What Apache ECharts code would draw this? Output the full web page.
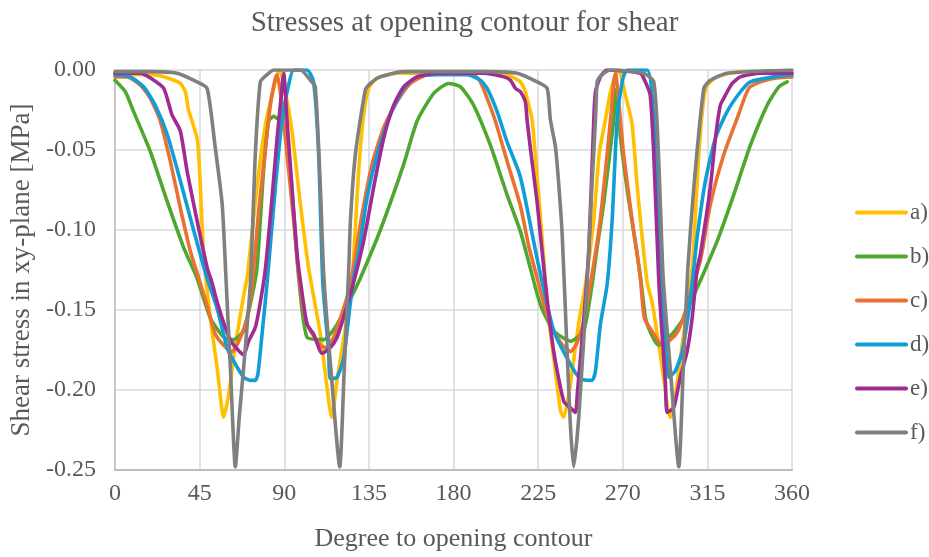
<!DOCTYPE html>
<html>
<head>
<meta charset="utf-8">
<script src="https://cdn.jsdelivr.net/npm/echarts@6/dist/echarts.min.js"></script>
<style>
  html, body { margin: 0; padding: 0; background: #ffffff; }
  #chart { width: 929px; height: 557px; }
</style>
</head>
<body>
<div id="chart"></div>
<script>
// Shear stress around the opening contour, [degree, MPa] pairs per case
const seriesNames = ['a)', 'b)', 'c)', 'd)', 'e)', 'f)'];
const seriesColors = ['#FFC000', '#4EA72E', '#E97132', '#0F9ED5', '#A02B93', '#808080'];

const caseA = [[0,-0.003],[20,-0.003],[28,-0.005],[34.7,-0.0084],[37.4,-0.0136],[39.1,-0.025],[41,-0.032],[43.6,-0.0425],[44.5,-0.053],[45.4,-0.073],[47.1,-0.115],[50.7,-0.155],[54.3,-0.186],[57.8,-0.217],[60.4,-0.203],[64,-0.172],[68.4,-0.141],[70.5,-0.128],[75.5,-0.073],[80,-0.034],[83.5,-0.0157],[86.2,-0.003],[87.5,0],[90.6,-0.0136],[94.1,-0.038],[98.6,-0.084],[103,-0.124],[109.2,-0.165],[115.4,-0.217],[118,-0.194],[123.4,-0.155],[126,-0.133],[129.6,-0.063],[132.2,-0.028],[134.9,-0.0115],[139.4,-0.005],[150,-0.002],[180,-0.002],[200,-0.002],[208.5,-0.003],[215.6,-0.0074],[218.2,-0.0136],[220,-0.022],[221.8,-0.031],[224,-0.06],[226.3,-0.093],[228.5,-0.126],[230.6,-0.155],[233.3,-0.18],[236.9,-0.213],[238.6,-0.217],[240.2,-0.21],[242.2,-0.196],[246.6,-0.158],[250.2,-0.134],[254.6,-0.093],[257.5,-0.052],[260.8,-0.031],[263.5,-0.0136],[266.1,-0.003],[267.9,0],[271.4,-0.0157],[275,-0.034],[277.7,-0.073],[283,-0.133],[285.6,-0.145],[290,-0.178],[295.4,-0.217],[298,-0.203],[302.4,-0.165],[306.9,-0.124],[310.4,-0.053],[313.1,-0.0177],[314.9,-0.0095],[320.2,-0.0043],[332.6,-0.001],[360,-0.001]];

const caseB = [[0,-0.0064],[5.5,-0.0136],[9.9,-0.026],[18.8,-0.051],[27.7,-0.082],[36.5,-0.111],[43.6,-0.130],[50.7,-0.155],[57.8,-0.167],[63.1,-0.1685],[68.4,-0.163],[72.9,-0.141],[75.5,-0.124],[79,-0.063],[81.7,-0.032],[84.4,-0.029],[87,-0.031],[89.7,-0.034],[93.2,-0.063],[97.7,-0.13],[102.1,-0.167],[111,-0.1685],[118.1,-0.159],[125.2,-0.143],[130.5,-0.13],[141.1,-0.100],[153.5,-0.059],[160.6,-0.032],[169.5,-0.0146],[177.4,-0.0084],[183.7,-0.0105],[190.7,-0.022],[199.6,-0.047],[208.5,-0.078],[215.6,-0.101],[220,-0.12],[226.3,-0.147],[233.3,-0.163],[242.2,-0.1695],[249.2,-0.163],[253.7,-0.134],[256.5,-0.11],[259.9,-0.083],[265.2,-0.031],[266.5,-0.012],[268.8,-0.042],[273,-0.08],[277.7,-0.115],[280,-0.135],[282.5,-0.157],[289,-0.172],[296.3,-0.165],[302.4,-0.155],[309.6,-0.136],[313,-0.127],[320.2,-0.107],[329,-0.078],[337.9,-0.047],[346.8,-0.022],[353,-0.0105],[357.4,-0.0074]];

const caseC = [[0,-0.0043],[6.4,-0.0043],[13.5,-0.0095],[18.8,-0.0177],[24.1,-0.032],[29.4,-0.057],[34.7,-0.086],[40,-0.113],[44.5,-0.13],[48.9,-0.147],[53.3,-0.165],[57.8,-0.172],[62.2,-0.176],[65.8,-0.1695],[70.2,-0.155],[73,-0.134],[76.4,-0.088],[80,-0.049],[82.6,-0.022],[85.3,-0.005],[86.2,-0.003],[88.8,-0.022],[91.5,-0.053],[95,-0.094],[97.7,-0.128],[101.2,-0.155],[103.9,-0.163],[109.2,-0.172],[111.9,-0.1735],[116.3,-0.167],[121.6,-0.149],[125.2,-0.134],[131.4,-0.09],[136.7,-0.059],[142.9,-0.036],[150,-0.0198],[157.1,-0.0084],[166,-0.003],[180,-0.002],[190.7,-0.003],[194.3,-0.0074],[197.9,-0.0177],[202.3,-0.032],[208.5,-0.057],[215.6,-0.085],[220,-0.11],[224.5,-0.13],[229,-0.15],[233.3,-0.163],[238,-0.172],[242.2,-0.176],[245.5,-0.171],[248.4,-0.161],[252.8,-0.134],[258.1,-0.093],[263.5,-0.031],[265.2,-0.008],[266.1,-0.002],[268.8,-0.032],[270.5,-0.053],[275,-0.094],[279.4,-0.13],[281.5,-0.155],[286.5,-0.165],[291,-0.172],[295.4,-0.1685],[299,-0.164],[303.3,-0.151],[306.9,-0.136],[311.3,-0.119],[316.6,-0.084],[323.7,-0.053],[330.9,-0.030],[337,-0.0115],[343.2,-0.0074],[352,-0.005],[360,-0.0043]];

const caseD = [[0,-0.003],[8.1,-0.0043],[15.2,-0.0105],[21.4,-0.022],[27.7,-0.040],[34.7,-0.069],[41.8,-0.100],[48.9,-0.13],[54.3,-0.149],[59.6,-0.1735],[63.1,-0.182],[68.4,-0.192],[72,-0.194],[74.6,-0.194],[76,-0.19],[78.2,-0.165],[80.8,-0.134],[85.3,-0.073],[88.8,-0.032],[92.3,-0.0095],[95,0],[102.1,0],[105.6,-0.0074],[108.3,-0.053],[110.5,-0.133],[113.6,-0.176],[114.5,-0.193],[118.1,-0.192],[121.6,-0.18],[125.2,-0.145],[127.8,-0.124],[129.6,-0.115],[134,-0.080],[139.4,-0.053],[146.4,-0.028],[153.5,-0.0115],[160.6,-0.0043],[171.3,-0.003],[187.2,-0.003],[194.3,-0.0064],[197.9,-0.0115],[203.2,-0.026],[208.5,-0.045],[215.6,-0.067],[224.5,-0.118],[233.3,-0.163],[242.2,-0.184],[247.5,-0.193],[253.7,-0.194],[255.5,-0.188],[258.1,-0.159],[261.7,-0.134],[264.4,-0.093],[267,-0.031],[269.7,-0.0074],[272.3,0],[283,0],[286.5,-0.032],[289.5,-0.11],[291.8,-0.155],[294.5,-0.192],[298,-0.188],[301.6,-0.176],[305.1,-0.151],[307.8,-0.124],[309.6,-0.104],[314,-0.069],[319.3,-0.0425],[325.5,-0.026],[332.6,-0.0136],[337.9,-0.0074],[350.3,-0.0043],[360,-0.003]];

const caseE = [[0,-0.002],[13.5,-0.002],[18.8,-0.005],[25.9,-0.0115],[30.3,-0.028],[34.7,-0.038],[38.3,-0.063],[43.6,-0.094],[48.9,-0.123],[51.6,-0.133],[54.3,-0.145],[58.7,-0.161],[62.2,-0.1705],[68.4,-0.178],[71,-0.1695],[74.6,-0.161],[77.3,-0.145],[80,-0.124],[83.5,-0.08],[86.2,-0.0425],[88.8,-0.0115],[89.7,-0.002],[91.5,-0.032],[94.1,-0.073],[96.8,-0.115],[98.6,-0.132],[102.1,-0.159],[105.6,-0.165],[110.1,-0.177],[114.5,-0.1735],[118.1,-0.167],[122.5,-0.151],[127.5,-0.13],[132.2,-0.107],[137.6,-0.073],[142.9,-0.0425],[148.2,-0.022],[153.5,-0.0105],[160.6,-0.0043],[171.3,-0.002],[196,-0.002],[206.7,-0.0043],[210.3,-0.0064],[212.9,-0.0115],[215.6,-0.0136],[218.2,-0.0198],[219.1,-0.031],[221,-0.05],[224.5,-0.083],[228.9,-0.134],[233.3,-0.176],[238.6,-0.207],[242,-0.211],[244.8,-0.214],[246,-0.2],[249,-0.16],[251.9,-0.114],[254.6,-0.031],[255.5,-0.0136],[258.1,-0.0043],[261.7,0],[279.4,-0.002],[282,-0.0074],[284.6,-0.0157],[286.5,-0.053],[289.2,-0.133],[290.9,-0.165],[292.7,-0.196],[293.6,-0.214],[297.1,-0.211],[300.6,-0.192],[304.2,-0.176],[306.9,-0.155],[309.6,-0.124],[311.3,-0.115],[316.6,-0.073],[319.3,-0.0425],[321.9,-0.022],[324.6,-0.0157],[328.2,-0.0084],[332.6,-0.0043],[343.2,-0.002],[360,-0.002]];

const caseF = [[0,-0.001],[20,-0.001],[33,-0.002],[43.6,-0.0074],[49,-0.0115],[53.3,-0.0485],[57,-0.084],[59,-0.13],[61.5,-0.19],[64,-0.248],[66.2,-0.215],[68.4,-0.186],[72,-0.133],[74.6,-0.053],[77.3,-0.0074],[80.8,-0.003],[84.4,0],[98.6,0],[103.9,-0.0064],[106.5,-0.0105],[109.2,-0.073],[111,-0.128],[115,-0.19],[119.5,-0.248],[121.8,-0.19],[124.3,-0.124],[125.2,-0.094],[127.8,-0.053],[133.1,-0.0126],[135.8,-0.0084],[141,-0.0043],[153,-0.001],[180,-0.001],[200,-0.001],[213.8,-0.002],[224.5,-0.0074],[229.8,-0.0115],[231.5,-0.031],[234.2,-0.048],[236,-0.072],[237.8,-0.103],[240.4,-0.176],[242.2,-0.223],[243.9,-0.248],[246.6,-0.217],[251,-0.134],[253.5,-0.075],[255.5,-0.031],[256.4,-0.0074],[258,-0.004],[263.5,0],[281,-0.002],[286.5,-0.0074],[289,-0.053],[291.5,-0.13],[295.5,-0.19],[299.8,-0.248],[302.2,-0.186],[304.6,-0.124],[307.8,-0.073],[313.1,-0.0115],[316.6,-0.0064],[325.5,-0.002],[360,0]];

const caseData = [caseA, caseB, caseC, caseD, caseE, caseF];

const xTicks = { min: 0, max: 360, step: 45 };
const yTicks = { min: -0.25, max: 0, step: 0.05 };

const font = 'Liberation Serif';
const textColor = '#595959';

const chart = echarts.init(document.getElementById('chart'), null, { renderer: 'canvas' });

chart.setOption({
  animation: false,
  backgroundColor: '#ffffff',
  title: {
    text: 'Stresses at opening contour for shear',
    left: 'center',
    top: 4,
    textStyle: { fontFamily: font, fontSize: 29, fontWeight: 'normal', color: textColor }
  },
  legend: {
    orient: 'vertical',
    left: 850,
    top: 196,
    itemWidth: 53,
    itemHeight: 14,
    itemGap: 21,
    icon: 'path://M2,5 L51,5 A2,2 0 0 1 51,9 L2,9 A2,2 0 0 1 2,5 Z',
    data: seriesNames.map((n, i) => ({ name: n, itemStyle: { color: seriesColors[i] } })),
    textStyle: { fontFamily: font, fontSize: 23, color: textColor, lineHeight: 21, padding: [0, 0, 0, -3] }
  },
  grid: { left: 115, right: 137, top: 70, bottom: 84 },
  xAxis: {
    type: 'value',
    min: xTicks.min,
    max: xTicks.max,
    interval: xTicks.step,
    name: 'Degree to opening contour',
    nameLocation: 'middle',
    nameGap: 56,
    nameTextStyle: { fontFamily: font, fontSize: 26, color: textColor },
    axisLine: { onZero: false, lineStyle: { color: '#BFBFBF', width: 2 } },
    axisTick: { show: false },
    axisLabel: { fontFamily: font, fontSize: 24, color: textColor, margin: 12 },
    splitLine: { show: true, lineStyle: { color: '#D9D9D9', width: 1.5 } }
  },
  yAxis: {
    type: 'value',
    min: yTicks.min,
    max: yTicks.max,
    interval: yTicks.step,
    name: 'Shear stress in xy-plane [MPa]',
    nameLocation: 'middle',
    nameGap: 79,
    nameTextStyle: { fontFamily: font, fontSize: 27, color: textColor },
    axisLine: { show: true, lineStyle: { color: '#BFBFBF', width: 1.5 } },
    axisTick: { show: false },
    axisLabel: {
      fontFamily: font, fontSize: 24, color: textColor, margin: 19,
      formatter: v => (Math.abs(v) < 1e-9 ? 0 : v).toFixed(2)
    },
    splitLine: { show: true, lineStyle: { color: '#D9D9D9', width: 1.5 } }
  },
  series: caseData.map((d, i) => ({
    name: seriesNames[i],
    type: 'line',
    data: d,
    symbol: 'none',
    smooth: 0.2,
    clip: true,
    color: seriesColors[i],
    lineStyle: { color: seriesColors[i], width: 3.6, cap: 'round', join: 'round' }
  }))
});
</script>
</body>
</html>
